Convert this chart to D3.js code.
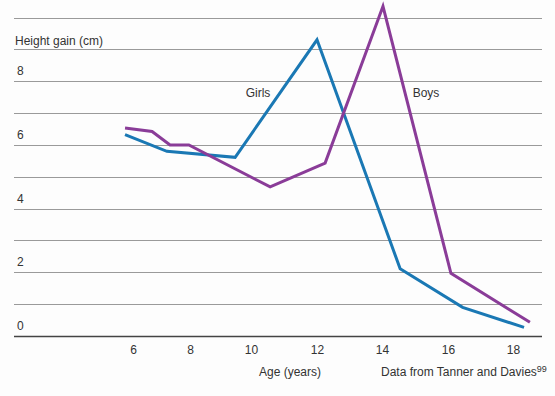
<!DOCTYPE html>
<html>
<head>
<meta charset="utf-8">
<script src="https://cdn.jsdelivr.net/npm/d3@7"></script>
<style>
  body { margin: 0; background: #fdfdfd; }
  svg { display: block; }
</style>
</head>
<body>
<svg id="chart" width="555" height="396"></svg>
<script>
// Height velocity data (cm per year)
const ageTicks = [6, 8, 10, 12, 14, 16, 18];
const gainTicks = [0, 2, 4, 6, 8];
const gridValues = [0, 1, 2, 3, 4, 5, 6, 7, 8, 9, 10];

const girlsAge = [5.72, 7.19, 9.48, 12, 14.55, 16.45, 18.34];
const girlsGain = [6.32, 5.8, 5.61, 9.3, 2.11, 0.9, 0.27];

const boysAge = [5.72, 6.67, 7.3, 7.96, 10.58, 12.25, 14.03, 16.09, 18.52];
const boysGain = [6.53, 6.42, 6.0, 6.0, 4.68, 5.43, 10.35, 1.97, 0.43];

const font = "'Liberation Sans', Arial, sans-serif";

const svg = d3.select("#chart")
  .style("font-family", font);

// axis labels are not quite evenly spaced in the original, so use a polylinear scale
const x = d3.scaleLinear()
  .domain(ageTicks)
  .range([133, 190, 251, 317, 382, 448, 513]);

const y = d3.scaleLinear()
  .domain([0, 10])
  .range([336, 17.5]);

const left = 14, right = 542;

// Gridlines
svg.append("g")
  .selectAll("line")
  .data(gridValues)
  .join("line")
  .attr("x1", left)
  .attr("x2", right)
  .attr("y1", d => Math.round(y(d)) + 0.5)
  .attr("y2", d => Math.round(y(d)) + 0.5)
  .style("stroke", d => d == 0 ? "#444" : "#9a9a9a")
  .style("stroke-width", d => d == 0 ? 1.4 : 1);

// Y labels sit above their gridlines
svg.append("g")
  .selectAll("text")
  .data(gainTicks)
  .join("text")
  .attr("x", 17)
  .attr("y", d => y(d) - 6)
  .style("font-size", "12px")
  .style("fill", "#333")
  .text(d => d);

svg.append("text")
  .attr("x", 15)
  .attr("y", 45)
  .style("font-size", "12px")
  .style("fill", "#333")
  .text("Height gain (cm)");

// X axis labels (no tick marks)
const xAxis = svg.append("g")
  .attr("transform", `translate(0, ${y(0)})`)
  .call(d3.axisBottom(x).tickValues(ageTicks).tickSize(0).tickPadding(9));
xAxis.select(".domain").remove();
xAxis.selectAll("text")
  .style("font-family", font)
  .style("font-size", "12px")
  .style("fill", "#333");

svg.append("text")
  .attr("x", 290)
  .attr("y", 376)
  .attr("text-anchor", "middle")
  .style("font-size", "12px")
  .style("fill", "#333")
  .text("Age (years)");

const source = svg.append("text")
  .attr("x", 381)
  .attr("y", 376)
  .style("font-size", "12px")
  .style("fill", "#333")
  .text("Data from Tanner and Davies");
source.append("tspan")
  .attr("dy", -4)
  .style("font-size", "9px")
  .text("99");

// Lines
const line = d3.line()
  .x(d => x(d[0]))
  .y(d => y(d[1]));

const series = [
  { name: "Girls", color: "#1a78b4", pts: d3.zip(girlsAge, girlsGain) },
  { name: "Boys", color: "#8a3c98", pts: d3.zip(boysAge, boysGain) }
];

svg.append("g")
  .selectAll("path")
  .data(series)
  .join("path")
  .attr("d", d => line(d.pts))
  .style("fill", "none")
  .style("stroke", d => d.color)
  .style("stroke-width", 3)
  .style("stroke-linejoin", "miter");

svg.append("text")
  .attr("x", 258)
  .attr("y", 97)
  .attr("text-anchor", "middle")
  .style("font-size", "12px")
  .style("fill", "#333")
  .text("Girls");

svg.append("text")
  .attr("x", 426)
  .attr("y", 97)
  .attr("text-anchor", "middle")
  .style("font-size", "12px")
  .style("fill", "#333")
  .text("Boys");
</script>
</body>
</html>
